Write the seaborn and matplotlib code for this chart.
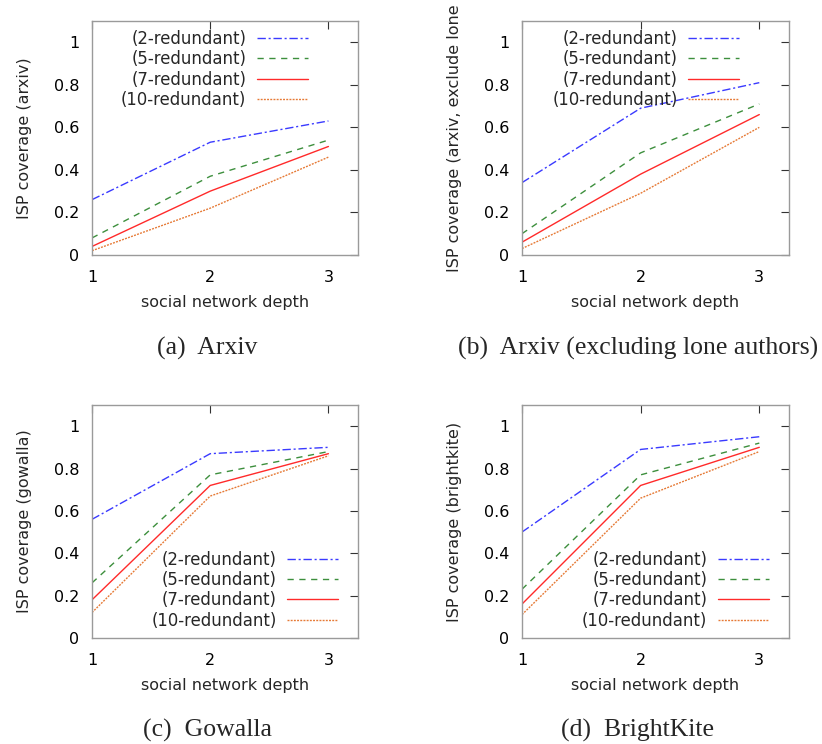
import matplotlib
matplotlib.use("Agg")
import matplotlib.pyplot as plt
import seaborn as sns
import pandas as pd

# ─────────────────────────────────────────────
# Data
# ─────────────────────────────────────────────

depth = [1, 2, 3]
series_names = ["(2-redundant)", "(5-redundant)", "(7-redundant)", "(10-redundant)"]

arxiv_2 = [0.26, 0.53, 0.63]
arxiv_5 = [0.08, 0.37, 0.54]
arxiv_7 = [0.04, 0.30, 0.51]
arxiv_10 = [0.02, 0.22, 0.46]

arxiv_nolone_2 = [0.34, 0.69, 0.81]
arxiv_nolone_5 = [0.10, 0.48, 0.71]
arxiv_nolone_7 = [0.06, 0.38, 0.66]
arxiv_nolone_10 = [0.03, 0.29, 0.60]

gowalla_2 = [0.56, 0.87, 0.90]
gowalla_5 = [0.26, 0.77, 0.88]
gowalla_7 = [0.18, 0.72, 0.87]
gowalla_10 = [0.12, 0.67, 0.86]

brightkite_2 = [0.50, 0.89, 0.95]
brightkite_5 = [0.23, 0.77, 0.92]
brightkite_7 = [0.16, 0.72, 0.90]
brightkite_10 = [0.11, 0.66, 0.88]

y_ticks = [0, 0.2, 0.4, 0.6, 0.8, 1]
y_tick_labels = ["0", "0.2", "0.4", "0.6", "0.8", "1"]

panels = [
    {"ylabel": "ISP coverage (arxiv)", "caption": "(a)  Arxiv",
     "values": [arxiv_2, arxiv_5, arxiv_7, arxiv_10]},
    {"ylabel": "ISP coverage (arxiv, exclude lone", "caption": "(b)  Arxiv (excluding lone authors)",
     "values": [arxiv_nolone_2, arxiv_nolone_5, arxiv_nolone_7, arxiv_nolone_10]},
    {"ylabel": "ISP coverage (gowalla)", "caption": "(c)  Gowalla",
     "values": [gowalla_2, gowalla_5, gowalla_7, gowalla_10]},
    {"ylabel": "ISP coverage (brightkite)", "caption": "(d)  BrightKite",
     "values": [brightkite_2, brightkite_5, brightkite_7, brightkite_10]},
]

# ─────────────────────────────────────────────
# Style
# ─────────────────────────────────────────────

sns.set_style("white")
plt.rcParams["font.family"] = ["DejaVu Sans"]

colors = ["#3a3aff", "#3d8f3d", "#ff2a2a", "#e67a36"]
dash_patterns = [(6, 2, 1.5, 2), (4.5, 4), None, (1.4, 0.9)]

FS = 11.5
LEG_FS = 11.9
axes_boxes = [
    [0.1119, 0.6573, 0.3236, 0.3145],
    [0.6350, 0.6573, 0.3248, 0.3145],
    [0.1119, 0.1425, 0.3236, 0.3132],
    [0.6350, 0.1425, 0.3248, 0.3132],
]
legend_anchor = [(0.812, 0.962), (0.813, 0.962), (0.925, 0.036), (0.925, 0.036)]
legend_loc = ["upper right", "upper right", "lower right", "lower right"]
caption_xy = [(0.252, 0.531), (0.776, 0.531), (0.252, 0.018), (0.776, 0.018)]

fig = plt.figure(figsize=(8.22, 7.44), dpi=100)

for i, panel in enumerate(panels):
    ax = fig.add_axes(axes_boxes[i])
    for name, vals, col, dsh in zip(series_names, panel["values"], colors, dash_patterns):
        df = pd.DataFrame({"depth": depth, "coverage": vals})
        sns.lineplot(data=df, x="depth", y="coverage", color=col, lw=1.0, label=name, ax=ax)
        if dsh is not None:
            ax.get_lines()[-1].set_dashes(dsh)

    ax.set_xlim(1, 3.25)
    ax.set_ylim(0, 1.1)
    ax.set_xticks(depth)
    ax.set_xticklabels([str(d) for d in depth], fontsize=FS)
    ax.set_yticks(y_ticks)
    ax.set_yticklabels(y_tick_labels, fontsize=FS)
    ax.tick_params(axis="both", direction="in", length=6, width=0.8, color="#333333",
                   top=True, right=True, labelcolor="black")
    ax.tick_params(axis="x", pad=11)
    ax.tick_params(axis="y", pad=9)
    for sp in ax.spines.values():
        sp.set_color("#9a9a9a")
        sp.set_linewidth(1.0)

    ax.set_xlabel("social network depth", fontsize=FS, labelpad=7)
    ax.set_ylabel(panel["ylabel"], fontsize=FS, labelpad=16)

    ax.legend(loc=legend_loc[i], bbox_to_anchor=legend_anchor[i], frameon=False,
              markerfirst=False, fontsize=LEG_FS, handlelength=3.1, handletextpad=0.62,
              labelspacing=0.14, borderpad=0, borderaxespad=0)

    fig.text(caption_xy[i][0], caption_xy[i][1], panel["caption"], ha="center", va="center",
             fontsize=18.5, family="Liberation Serif")

fig.savefig("out.png", dpi=100)
